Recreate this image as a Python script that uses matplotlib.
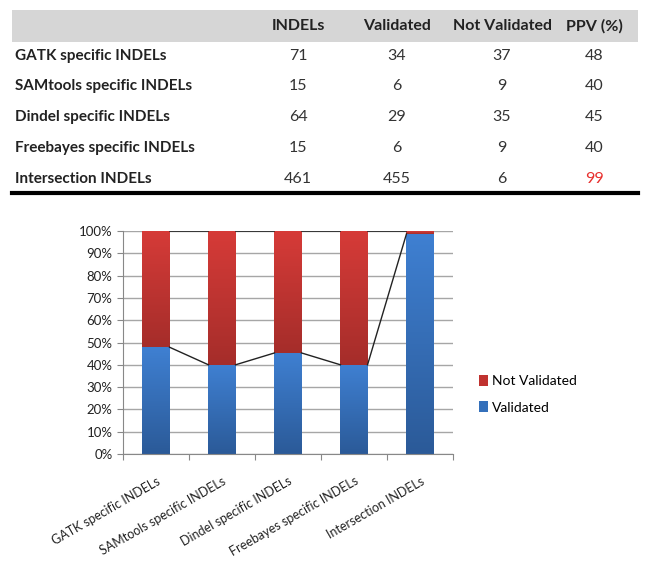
import numpy as np
import matplotlib
matplotlib.use("Agg")
import matplotlib.pyplot as plt
from matplotlib.patches import Patch, Rectangle
from matplotlib.colors import LinearSegmentedColormap

categories = ["GATK specific INDELs", "SAMtools specific INDELs", "Dindel specific INDELs",
              "Freebayes specific INDELs", "Intersection INDELs"]
indels = [71, 15, 64, 15, 461]
validated = [34, 6, 29, 6, 455]
not_validated = [37, 9, 35, 9, 6]
ppv = [48, 40, 45, 40, 99]
headers = ["INDELs", "Validated", "Not Validated", "PPV (%)"]

W, H = 650, 562
fig = plt.figure(figsize=(W / 100, H / 100), dpi=100)
plt.rcParams['font.family'] = ['Lato', 'DejaVu Sans']

def fx(px):
    return px / W

def fy(py):
    return 1 - py / H

# ---- table ----
fig.patches.append(Rectangle((fx(12), fy(42)), fx(626), 32 / H, transform=fig.transFigure,
                             facecolor="#d6d6d6", edgecolor="none"))
col_x = [298, 397, 502, 594]
for x, h in zip(col_x, headers):
    fig.text(fx(x), fy(26), h, ha="center", va="center", fontsize=11.5, fontweight="bold", color="#222222")
row_y = [56, 86, 117, 148, 179]
for i, name in enumerate(categories):
    y = fy(row_y[i])
    fig.text(fx(15), y, name, ha="left", va="center", fontsize=11, fontweight="bold", color="#222222")
    vals = [indels[i], validated[i], not_validated[i], ppv[i]]
    for j, v in enumerate(vals):
        c = "#e8302e" if (j == 3 and v == max(ppv)) else "#333333"
        fig.text(fx(col_x[j]), y, str(v), ha="center", va="center", fontsize=11.5, color=c)
fig.add_artist(plt.Line2D([fx(12), fx(638)], [fy(193), fy(193)], transform=fig.transFigure,
                          color="black", lw=3))

# ---- chart ----
ax = fig.add_axes([fx(123), fy(454), fx(453) - fx(123), (454 - 231) / H])
val_pct = np.array(validated) / np.array(indels) * 100
x = np.arange(len(categories))
bw = 0.41

blue = LinearSegmentedColormap.from_list("b", ["#2b5a98", "#3f80d2"])
red = LinearSegmentedColormap.from_list("r", ["#a52d2a", "#d63b38"])
grad = np.linspace(0, 1, 256).reshape(-1, 1)

for i in range(len(x)):
    ax.imshow(grad, extent=[x[i] - bw / 2, x[i] + bw / 2, 0, val_pct[i]], origin="lower",
              cmap=blue, aspect="auto", zorder=2)
    ax.imshow(grad, extent=[x[i] - bw / 2, x[i] + bw / 2, val_pct[i], 100], origin="lower",
              cmap=red, aspect="auto", zorder=2)

# series lines between bars
for i in range(len(x) - 1):
    ax.plot([x[i] + bw / 2, x[i + 1] - bw / 2], [val_pct[i], val_pct[i + 1]], color="#222222", lw=1, zorder=3)
    ax.plot([x[i] + bw / 2, x[i + 1] - bw / 2], [100, 100], color="#222222", lw=1.2, zorder=3)

ax.set_xlim(-0.5, len(x) - 0.5)
ax.set_ylim(0, 100)
ax.set_yticks(np.arange(0, 101, 10))
ax.set_yticklabels([f"{v}%" for v in range(0, 101, 10)], fontsize=9.5, color="#222222")
ax.yaxis.grid(True, color="#a6a6a6", lw=1)
ax.set_axisbelow(True)
ax.set_xticks(np.arange(-0.5, len(x), 1.0))
ax.set_xticklabels([])
ax.set_xticks(x, minor=True)
ax.set_xticklabels(categories, minor=True, rotation=30, ha="right", rotation_mode="anchor",
                   fontsize=9, color="#222222")
ax.tick_params(axis="x", which="minor", length=0, pad=15)
ax.tick_params(axis="x", which="major", length=4, color="#888888")
ax.tick_params(axis="y", length=4, color="#888888")
for s in ["top", "right"]:
    ax.spines[s].set_visible(False)
for s in ["left", "bottom"]:
    ax.spines[s].set_color("#888888")

handles = [Patch(facecolor="#c0322f", label="Not Validated"), Patch(facecolor="#3470bb", label="Validated")]
fig.legend(handles=handles, loc="center left", bbox_to_anchor=(fx(466), fy(394)), frameon=False,
           handlelength=0.7, handleheight=0.9, handletextpad=0.3, labelspacing=1.0, fontsize=10)

fig.savefig("out.png", dpi=100)
